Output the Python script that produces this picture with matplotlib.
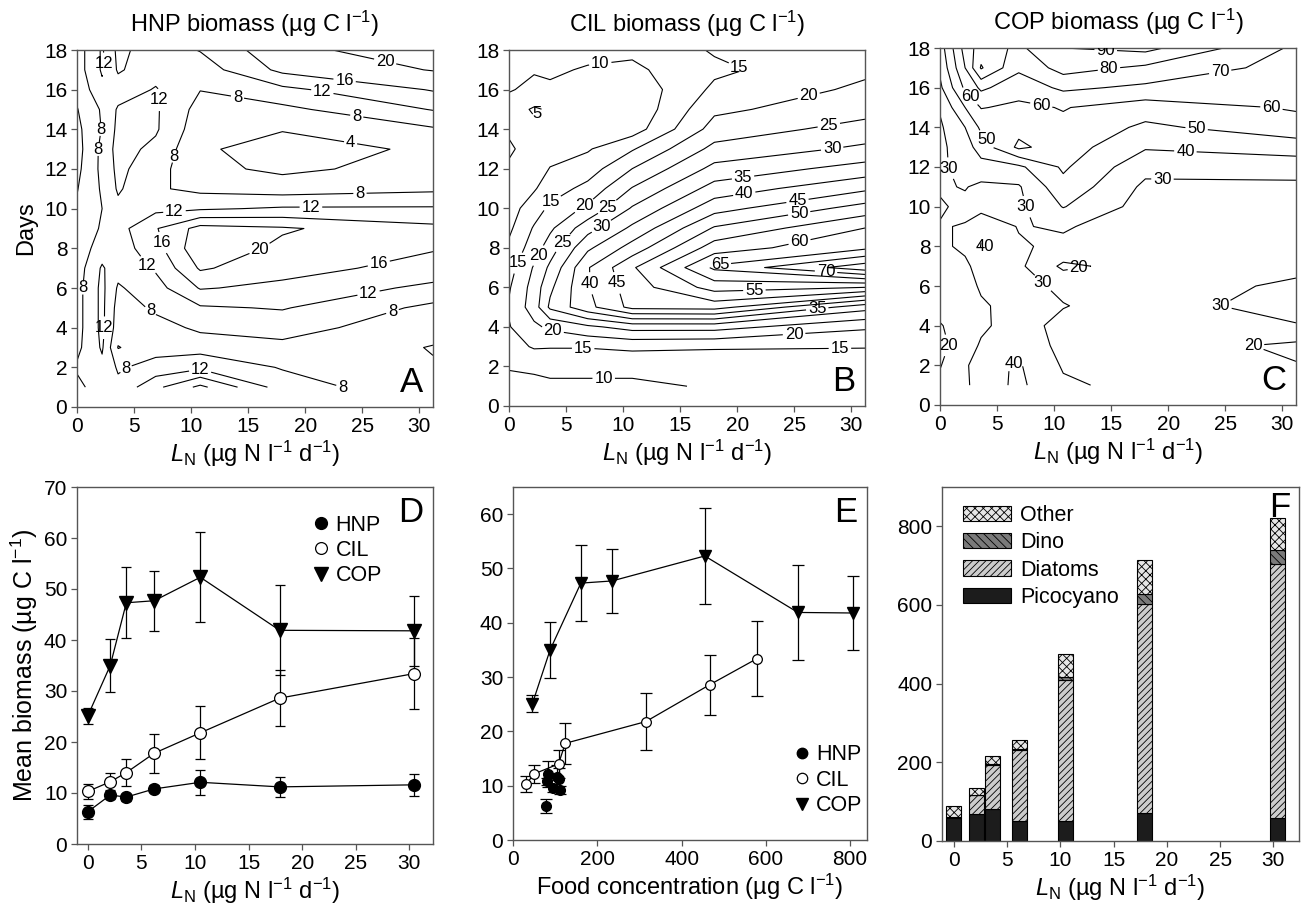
import numpy as np
import matplotlib
matplotlib.use('Agg')
import matplotlib.pyplot as plt
from matplotlib.patches import Patch
from matplotlib.lines import Line2D

plt.rcParams['font.family'] = ['Liberation Sans', 'DejaVu Sans']
plt.rcParams['mathtext.fontset'] = 'custom'
plt.rcParams['mathtext.rm'] = 'Liberation Sans'
plt.rcParams['mathtext.it'] = 'Liberation Sans:italic'
plt.rcParams['hatch.linewidth'] = 0.6

# ── contour grids: rows = days 1..18, columns = LN_GRID ──────────
LN_GRID = [0, 2.2, 3.6, 6.9, 10.8, 18.0, 31.2]
DAYS = list(range(1, 19))

HNP_GRID = [
    [7.0, 10.0, 9.0, 15.0, 21.0, 10.0, 5.0],
    [8.5, 11.0, 7.5, 9.5, 11.0, 7.7, 4.3],
    [7.0, 12.5, 3.8, 6.5, 6.5, 7.0, 3.8],
    [6.5, 13.0, 6.0, 7.0, 8.5, 9.5, 5.5],
    [6.5, 13.0, 6.5, 8.5, 11.5, 12.3, 7.0],
    [6.5, 13.0, 7.5, 10.5, 16.3, 15.0, 11.0],
    [6.0, 12.5, 9.5, 12.5, 20.5, 17.5, 14.5],
    [5.5, 10.0, 10.0, 14.5, 23.0, 19.0, 16.3],
    [5.0, 8.5, 10.5, 15.7, 21.5, 20.5, 17.0],
    [4.5, 8.0, 11.0, 11.0, 11.5, 12.5, 12.5],
    [3.8, 8.5, 12.5, 8.5, 7.0, 6.0, 7.2],
    [3.0, 9.0, 13.0, 9.5, 5.0, 3.2, 5.5],
    [2.5, 9.0, 13.5, 11.0, 4.5, 2.5, 4.6],
    [3.0, 8.2, 13.0, 12.5, 5.5, 4.2, 7.5],
    [3.8, 8.5, 12.5, 12.5, 6.5, 7.0, 12.2],
    [5.0, 11.0, 10.0, 12.3, 8.1, 11.0, 16.3],
    [6.0, 12.5, 7.5, 10.5, 10.0, 17.0, 20.2],
    [6.0, 12.5, 7.0, 10.0, 12.2, 19.0, 22.0],
]

# columns = LN_GRID, each listing days 1..18
CIL_COLS = [
    [8, 10.5, 13, 14.7, 15.5, 14.5, 13, 11, 9, 8, 7, 5.5, 4.5, 5.5, 7, 10.5, 11, 11.5],
    [8.5, 11, 15.5, 19, 22.5, 22, 20.5, 17.5, 15.5, 12.5, 9.5, 7.5, 6.5, 6, 4.5, 8.5, 10.5, 11.5],
    [9, 11.5, 15.3, 21, 31, 29, 26, 22.5, 19, 16, 12.5, 10.2, 8, 7, 5.5, 9.5, 10.5, 11.5],
    [9, 11.5, 15.3, 24, 38.5, 39.6, 39.6, 34, 28, 21, 16.5, 12.5, 9.5, 8, 7, 7.5, 9.7, 11],
    [9, 11.5, 16, 27, 46.5, 47.5, 49.3, 42, 36, 30.5, 25.3, 20, 14.5, 7.5, 6, 6.5, 9, 11],
    [10.5, 12, 15.5, 27, 47, 57, 66, 57.5, 50.5, 43, 37, 31.5, 26.5, 22, 19, 16, 14, 15.5],
    [11, 12.5, 15.2, 20.8, 32, 55, 78, 64, 60, 52, 44, 37, 31, 27, 23, 21, 19, 17],
]

COP_COLS = [
    [22, 19.5, 17, 19, 25, 26, 28, 29, 29.5, 31, 29, 29, 28, 28.5, 31, 38, 42, 45],
    [28, 28, 26, 27, 27, 27, 29, 31, 30.5, 28, 30.5, 32, 35, 40, 50, 62, 70, 74],
    [35, 37, 31, 28.5, 29, 31, 32, 41, 36, 27, 28, 36, 45, 52, 60.5, 72, 91, 85],
    [42, 41, 36, 34, 33, 34, 32, 31, 29.5, 28, 29, 38, 62, 57, 58, 64, 72, 78],
    [31.5, 29, 27.5, 27, 30.5, 27.5, 18, 28, 31, 40.5, 47, 51.5, 55, 58, 60.5, 72, 84, 90],
    [27, 25.5, 25, 24, 24, 24.5, 24, 23.5, 24.5, 26, 28, 33, 41, 48, 55, 68, 78, 93],
    [22, 20.5, 18, 29, 36, 32, 27, 26, 26, 27, 28, 34, 45, 56, 61, 63, 66, 68],
]

HNP_LEVELS = [4, 8, 12, 16, 20]
CIL_LEVELS = list(range(5, 80, 5))
COP_LEVELS = [20, 30, 40, 50, 60, 70, 80, 90]

# where the contour labels sit (LN, day)
HNP_LABEL_AT = [(27, 17.4), (23.5, 16.7), (21.5, 15.9), (14, 15.4), (24.5, 14.6),
                (7.8, 15.5), (24, 13.4), (8.8, 12.6), (2.2, 14), (1.2, 13),
                (8.5, 10.2), (20.5, 10), (24.8, 10.7), (7.6, 8.3), (16, 8),
                (6.3, 7.2), (26.5, 7.1), (25.5, 5.9), (27.5, 5.1), (6.5, 4.9),
                (0.6, 6), (2.3, 4.0), (4.2, 2.0), (10.8, 2.1), (23.8, 1.1), (2.4, 17.3)]
CIL_LABEL_AT = [(8, 17.3), (20.3, 17.3), (26.3, 15.6), (28, 14.3), (28.3, 13.1),
                (20.5, 11.6), (20.6, 10.8), (25.3, 10.3), (25.5, 9.5), (25.5, 8.2),
                (2.5, 14.8), (3.3, 10.7), (6.3, 10.4), (8.7, 10.0), (8.3, 8.9),
                (4.8, 8.2), (2.6, 7.6), (0.9, 7.2), (18.5, 7.05), (27.8, 6.9),
                (7.3, 6.2), (9.3, 6.2), (21.5, 6.0), (3.8, 3.7), (6.5, 2.85),
                (8.3, 1.6), (27, 5.0), (25, 3.5), (29, 3.0)]
COP_LABEL_AT = [(14.5, 17.6), (14.9, 16.5), (24.5, 17.0), (29, 14.8), (22.5, 14),
                (21.5, 12.7), (19.5, 11.6), (8.9, 15.2), (4.3, 13.5), (1.1, 12.0),
                (6.7, 9.8), (4.3, 8.2), (12.2, 6.8), (8.6, 5.9), (23.3, 5.0),
                (26.7, 3.1), (6.0, 2.8), (0.8, 3.0), (2.5, 15.5)]

# ── mean biomass (panel D, E) ─────────────────────────────
LN = [0, 2.1, 3.6, 6.2, 10.5, 17.9, 30.4]
hnp_mean = [6.3, 9.6, 9.2, 10.8, 12.1, 11.2, 11.6]
hnp_sd = [1.3, 0.8, 0.7, 0.7, 2.4, 2.0, 2.2]
cil_mean = [10.3, 12.2, 14.0, 17.8, 21.8, 28.6, 33.4]
cil_sd = [1.4, 1.7, 2.6, 3.8, 5.2, 5.5, 6.9]
cop_mean = [25.1, 35.0, 47.3, 47.7, 52.3, 41.9, 41.8]
cop_sd = [1.6, 5.1, 7.0, 5.9, 8.8, 8.8, 6.8]

food_hnp = [79, 94, 112, 80, 84, 110, 104]
food_cil = [31, 51, 108, 124, 315, 467, 579]
food_cop = [46, 88, 161, 235, 455, 676, 806]

# ── phytoplankton composition (panel F) ───────────────────
pico = [58, 68, 81, 51, 51, 72, 59]
diatoms = [3, 48, 113, 180, 358, 531, 645]
dino = [0, 2, 2, 2, 9, 25, 36]
other = [28, 18, 21, 25, 58, 87, 81]

W, H = 1302, 914
fig = plt.figure(figsize=(W / 100, H / 100), dpi=100)

def box(l, r, t, b):
    return [l / W, 1 - b / H, (r - l) / W, (b - t) / H]

TICK = 15
LAB = 17
SPINE = '#555555'
LN_LABEL = r'$L_\mathrm{N}$ (µg N l$^{-1}$ d$^{-1}$)'

def style(ax):
    for sp in ax.spines.values():
        sp.set_edgecolor(SPINE)
        sp.set_linewidth(1.0)
    ax.tick_params(direction='out', length=4, width=0.9, color=SPINE,
                   labelsize=TICK, pad=3)

def letter(ax, s, x, y, va):
    ax.text(x, y, s, transform=ax.transAxes, fontsize=25, ha='right', va=va)

def contour_panel(pos, grid, levels, spots, title, let, ylabel=None):
    ax = fig.add_axes(pos)
    Z = np.array(grid)
    ax.set_xlim(0, 31.2)
    ax.set_ylim(0, 18)
    cs = ax.contour(LN_GRID, DAYS, Z, levels=levels, colors='k', linewidths=0.8)
    labels = ax.clabel(cs, fmt='%d', inline=True, fontsize=12, inline_spacing=2,
                       manual=spots)
    for t in labels:
        t.set_rotation(0)
    ax.set_xticks(range(0, 31, 5))
    ax.set_yticks(range(0, 19, 2))
    ax.set_xlabel(LN_LABEL, fontsize=LAB, labelpad=2)
    if ylabel:
        ax.set_ylabel(ylabel, fontsize=LAB, labelpad=5)
    ax.set_title(title, fontsize=LAB, pad=13)
    style(ax)
    letter(ax, let, 0.972, 0.022, 'bottom')
    return ax

contour_panel(box(77, 433, 50, 407), HNP_GRID, HNP_LEVELS, HNP_LABEL_AT,
              'HNP biomass (µg C l$^{-1}$)', 'A', 'Days')
contour_panel(box(509, 865, 50, 406), np.array(CIL_COLS).T, CIL_LEVELS, CIL_LABEL_AT,
              'CIL biomass (µg C l$^{-1}$)', 'B')
contour_panel(box(940, 1296, 48, 405), np.array(COP_COLS).T, COP_LEVELS, COP_LABEL_AT,
              'COP biomass (µg C l$^{-1}$)', 'C')

# ── D: mean biomass vs LN ────────────────────────────────
axD = fig.add_axes(box(77, 433, 487, 844))
eb = dict(ecolor='k', elinewidth=0.9, capsize=3.8, capthick=0.9, color='k', lw=0.9)
axD.errorbar(LN, hnp_mean, yerr=hnp_sd, fmt='o', ms=8.5, mfc='k', mec='k', zorder=3, **eb)
axD.errorbar(LN, cil_mean, yerr=cil_sd, fmt='o', ms=8.5, mfc='white', mec='k', mew=0.9, zorder=3, **eb)
axD.errorbar(LN, cop_mean, yerr=cop_sd, fmt='v', ms=9.5, mfc='k', mec='k', zorder=3, **eb)
axD.plot(LN, hnp_mean, color='k', lw=0.9, zorder=2)
axD.plot(LN, cil_mean, color='k', lw=0.9, zorder=2)
axD.plot(LN, cop_mean, color='k', lw=0.9, zorder=2)
axD.set_xlim(-1.0, 32.2)
axD.set_ylim(0, 70)
axD.set_xticks(range(0, 31, 5))
axD.set_yticks(range(0, 71, 10))
axD.set_xlabel(LN_LABEL, fontsize=LAB, labelpad=2)
axD.set_ylabel('Mean biomass (µg C l$^{-1}$)', fontsize=LAB + 1, labelpad=3)
style(axD)
letter(axD, 'D', 0.972, 0.975, 'top')

def marker_handles(ms):
    return [Line2D([], [], ls='none', marker='o', ms=ms, mfc='k', mec='k'),
            Line2D([], [], ls='none', marker='o', ms=ms, mfc='white', mec='k', mew=0.9),
            Line2D([], [], ls='none', marker='v', ms=ms + 1, mfc='k', mec='k')]

axD.legend(marker_handles(8.5), ['HNP', 'CIL', 'COP'], loc='upper left',
           bbox_to_anchor=(0.62, 0.965), frameon=False, fontsize=TICK + 0.5,
           handlelength=0.8, handletextpad=0.25, labelspacing=0.2, borderpad=0.2)

# ── E: mean biomass vs food ──────────────────────────────
axE = fig.add_axes(box(513, 867, 487, 840))
eb2 = dict(ecolor='k', elinewidth=0.9, capsize=4.3, capthick=0.9, lw=0.9)
axE.errorbar(food_hnp, hnp_mean, yerr=hnp_sd, fmt='o', ms=7, mfc='k', mec='k', zorder=3, **eb2)
axE.errorbar(food_cil, cil_mean, yerr=cil_sd, fmt='o', ms=7, mfc='white', mec='k', mew=0.9, zorder=3, **eb2)
axE.errorbar(food_cop, cop_mean, yerr=cop_sd, fmt='v', ms=9, mfc='k', mec='k', zorder=3, **eb2)
axE.plot(food_cil, cil_mean, color='k', lw=0.9, zorder=2)
axE.plot(food_cop, cop_mean, color='k', lw=0.9, zorder=2)
axE.set_xlim(0, 840)
axE.set_ylim(0, 65)
axE.set_xticks(range(0, 801, 200))
axE.set_yticks(range(0, 61, 10))
axE.set_xlabel('Food concentration (µg C l$^{-1}$)', fontsize=LAB, labelpad=2)
style(axE)
letter(axE, 'E', 0.972, 0.975, 'top')
axE.legend(marker_handles(7.5), ['HNP', 'CIL', 'COP'], loc='lower left',
           bbox_to_anchor=(0.75, 0.025), frameon=False, fontsize=TICK + 0.5,
           handlelength=0.8, handletextpad=0.25, labelspacing=0.2, borderpad=0.2)

# ── F: phytoplankton stacked bars ────────────────────────
axF = fig.add_axes(box(942, 1299, 487, 841))
bw = 1.4
b1 = np.array(pico)
b2 = b1 + np.array(diatoms)
b3 = b2 + np.array(dino)
axF.bar(LN, pico, width=bw, color='#1c1c1c', edgecolor='k', lw=0.8)
axF.bar(LN, diatoms, width=bw, bottom=b1, color='#cccccc', edgecolor='k', lw=0.8, hatch='/////')
axF.bar(LN, dino, width=bw, bottom=b2, color='#7a7a7a', edgecolor='k', lw=0.8, hatch='\\\\\\\\')
axF.bar(LN, other, width=bw, bottom=b3, color='#e6e6e6', edgecolor='k', lw=0.8, hatch='xxxx')
axF.set_xlim(-1.1, 32.4)
axF.set_ylim(0, 900)
axF.set_xticks(range(0, 31, 5))
axF.set_yticks(range(0, 801, 200))
axF.set_xlabel(LN_LABEL, fontsize=LAB, labelpad=2)
style(axF)
letter(axF, 'F', 0.975, 0.99, 'top')
handles = [Patch(facecolor='#e6e6e6', edgecolor='k', hatch='xxxx', lw=0.8),
           Patch(facecolor='#7a7a7a', edgecolor='k', hatch='\\\\\\\\', lw=0.8),
           Patch(facecolor='#cccccc', edgecolor='k', hatch='/////', lw=0.8),
           Patch(facecolor='#1c1c1c', edgecolor='k', lw=0.8)]
axF.legend(handles, ['Other', 'Dino', 'Diatoms', 'Picocyano'], loc='upper left',
           bbox_to_anchor=(0.005, 1.005), frameon=False, fontsize=TICK + 0.5,
           handlelength=2.2, handleheight=0.7, handletextpad=0.45, labelspacing=0.3)

fig.savefig('out.png', dpi=100)
